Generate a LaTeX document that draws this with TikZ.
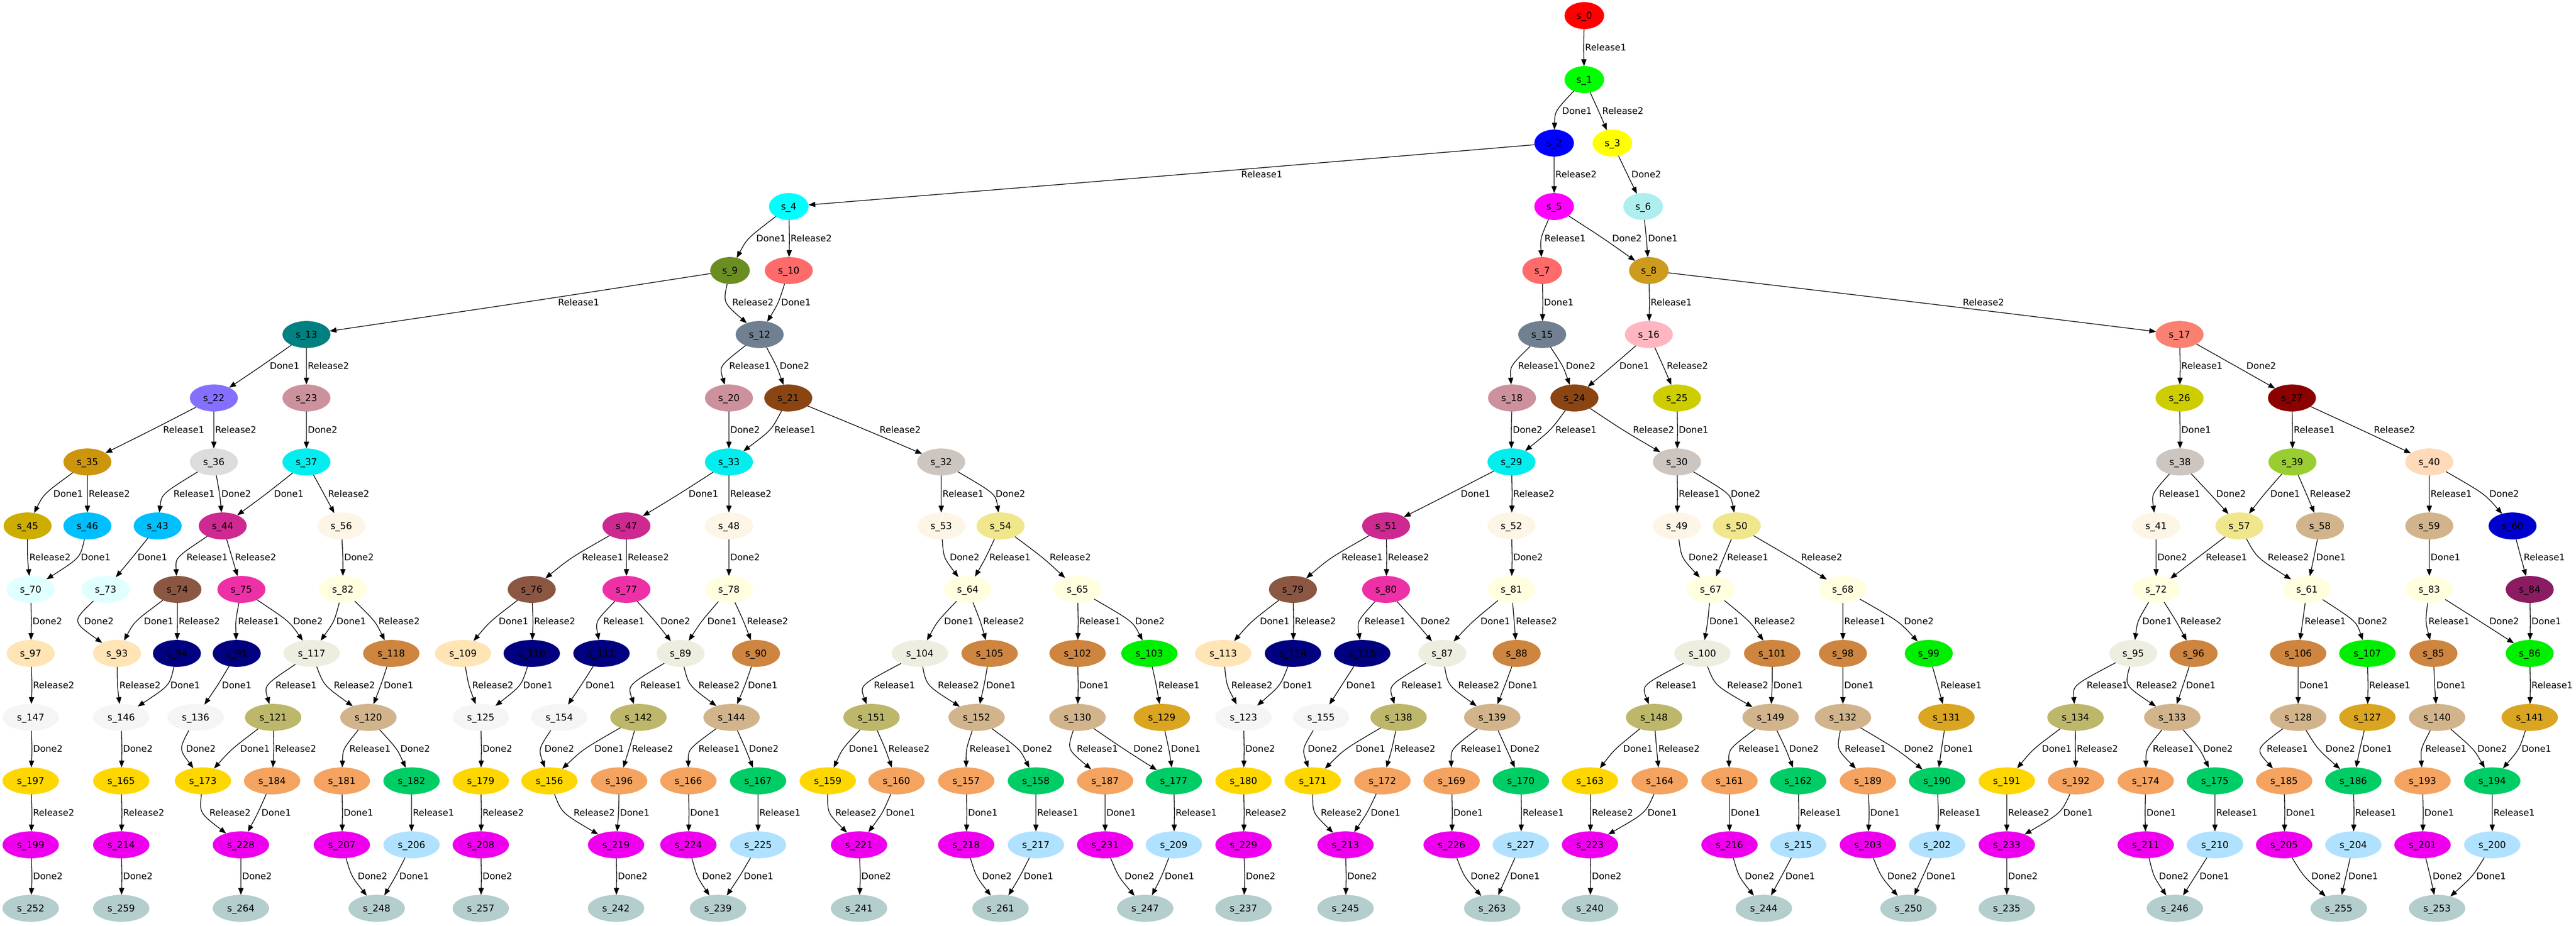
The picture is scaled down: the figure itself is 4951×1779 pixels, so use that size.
\documentclass[tikz,border=0pt]{standalone}
\usepackage{fontspec}
\setmainfont{DejaVu Sans}
\usetikzlibrary{arrows.meta,shapes.geometric,calc}
\definecolor{cRed}{HTML}{FF0000}\definecolor{cGrn}{HTML}{00FF00}\definecolor{cBlu}{HTML}{0000FF}
\definecolor{cYel}{HTML}{FFFF00}\definecolor{cCya}{HTML}{00FFFF}\definecolor{cMag}{HTML}{FF00FF}
\definecolor{cPturq}{HTML}{AFEEEE}\definecolor{cIred}{HTML}{FF6A6A}\definecolor{cGold3}{HTML}{CD9B1D}
\definecolor{cOlive}{HTML}{6B8E23}\definecolor{cSlate}{HTML}{708090}\definecolor{cTeal}{HTML}{008080}
\definecolor{cLpink}{HTML}{FFB6C1}\definecolor{cSalmon}{HTML}{FA8072}\definecolor{cPink3}{HTML}{CD919E}
\definecolor{cSbrown}{HTML}{8B4513}\definecolor{cLslate}{HTML}{8470FF}\definecolor{cYel3}{HTML}{CDCD00}
\definecolor{cDred}{HTML}{8B0000}\definecolor{cCyan2}{HTML}{00EEEE}\definecolor{cSeash3}{HTML}{CDC5BF}
\definecolor{cDgold3}{HTML}{CD950C}\definecolor{cGains}{HTML}{DCDCDC}\definecolor{cYgreen}{HTML}{9ACD32}
\definecolor{cPeach}{HTML}{FFDAB9}\definecolor{cOlace}{HTML}{FDF5E6}\definecolor{cDsky}{HTML}{00BFFF}
\definecolor{cMar3}{HTML}{CD2990}\definecolor{cGld3}{HTML}{CDAD00}\definecolor{cKhaki}{HTML}{F0E68C}
\definecolor{cTan}{HTML}{D2B48C}\definecolor{cMblue}{HTML}{0000CD}\definecolor{cLyel}{HTML}{FFFFE0}
\definecolor{cLcyan}{HTML}{E0FFFF}\definecolor{cBrn4}{HTML}{8B5742}\definecolor{cMar2}{HTML}{EE30A7}
\definecolor{cMar4}{HTML}{8B1C62}\definecolor{cPeru}{HTML}{CD853F}\definecolor{cGrn2}{HTML}{00EE00}
\definecolor{cIvory2}{HTML}{EEEEE0}\definecolor{cNavy}{HTML}{000080}\definecolor{cMocc}{HTML}{FFE4B5}
\definecolor{cDkh}{HTML}{BDB76B}\definecolor{cWsm}{HTML}{F5F5F5}\definecolor{cGoldr}{HTML}{DAA520}
\definecolor{cGold}{HTML}{FFD700}\definecolor{cSandy}{HTML}{F4A460}\definecolor{cSg3}{HTML}{00CD66}
\definecolor{cMag2}{HTML}{EE00EE}\definecolor{cLsky}{HTML}{B0E2FF}\definecolor{cLc3}{HTML}{B4CDCD}
\tikzset{
  st/.style={ellipse,draw=none,inner xsep=6pt,inner ysep=4.15pt,outer sep=0pt,
    font=\fontsize{9pt}{10pt}\selectfont,text height=0.8em,text depth=0.2em},
  edg/.style={draw=black,line width=0.65pt,-{Triangle[length=6.5pt,width=5pt]}},
  lbl/.style={anchor=west,inner sep=0.5pt,font=\fontsize{8.7pt}{10pt}\selectfont,
    text height=0.75em,text depth=0.2em}
}
\newcommand\Sn[4]{\node[st,fill=#4] (s#1) at (#2,#3) {s\_#1};}
% edge from #1 to #2 with label #3 whose left side is at x = #4 (pixels)
\newcommand\ed[4]{\draw[edg] let \p1=(#1.center),\p2=(#2.center),
  \n1={abs(\x2-\x1)/max(abs(\y2-\y1),1)},
  \n2={#4*0.5-5*\n1-0.5},
  \n3={(\y1+\y2)/2},
  \p3=({1.333333*\n2*1pt-\x1/6-\x2/6},{1.333333*\n3*1pt-\y1/6-\y2/6}),
  \p4=({#4*0.5pt},{\n3*1pt}) in
  (#1) .. controls (\p3) .. (#2) node[lbl] at (\p4) {#3};}
\begin{document}
\begin{tikzpicture}[x=0.5pt,y=-0.5pt]
\fill[white] (0,0) rectangle (4951,1779);
\useasboundingbox (0,0) rectangle (4951,1779);
% row 0-6
\Sn{0}{3045}{30}{cRed}
\Sn{1}{3045}{153}{cGrn}
\Sn{2}{2987}{275}{cBlu}\Sn{3}{3099}{275}{cYel}
\Sn{4}{1516}{397}{cCya}\Sn{5}{2987}{397}{cMag}\Sn{6}{3158}{397}{cPturq}
\Sn{9}{1403}{520}{cOlive}\Sn{10}{1516}{520}{cIred}\Sn{7}{2964}{520}{cIred}\Sn{8}{3169}{520}{cGold3}
\Sn{13}{589}{643}{cTeal}\Sn{12}{1460}{643}{cSlate}\Sn{15}{2964}{643}{cSlate}\Sn{16}{3169}{643}{cLpink}\Sn{17}{4189}{643}{cSalmon}
\Sn{22}{411}{765}{cLslate}\Sn{23}{589}{765}{cPink3}\Sn{20}{1401}{765}{cPink3}\Sn{21}{1515}{765}{cSbrown}
\Sn{18}{2906}{765}{cPink3}\Sn{24}{3026}{765}{cSbrown}\Sn{25}{3223}{765}{cYel3}\Sn{26}{4189}{765}{cYel3}\Sn{27}{4405}{765}{cDred}
% row 7
\Sn{35}{168}{888}{cDgold3}\Sn{36}{411}{888}{cGains}\Sn{37}{589}{888}{cCyan2}\Sn{33}{1401}{888}{cCyan2}
\Sn{32}{1809}{888}{cSeash3}\Sn{29}{2905}{888}{cCyan2}\Sn{30}{3223}{888}{cSeash3}\Sn{38}{4190}{888}{cSeash3}
\Sn{39}{4406}{888}{cYgreen}\Sn{40}{4669}{888}{cPeach}
% row 8
\Sn{45}{53}{1011}{cGld3}\Sn{46}{168}{1011}{cDsky}\Sn{43}{303}{1011}{cDsky}\Sn{44}{428}{1011}{cMar3}
\Sn{56}{656}{1011}{cOlace}\Sn{47}{1204}{1011}{cMar3}\Sn{48}{1401}{1011}{cOlace}\Sn{53}{1809}{1011}{cOlace}
\Sn{54}{1923}{1011}{cKhaki}\Sn{51}{2664}{1011}{cMar3}\Sn{52}{2905}{1011}{cOlace}\Sn{49}{3223}{1011}{cOlace}
\Sn{50}{3338}{1011}{cKhaki}\Sn{41}{4144}{1011}{cOlace}\Sn{57}{4304}{1011}{cKhaki}\Sn{58}{4459}{1011}{cTan}
\Sn{59}{4669}{1011}{cTan}\Sn{60}{4829}{1011}{cMblue}
% row 9
\Sn{70}{59}{1133}{cLcyan}\Sn{73}{203}{1133}{cLcyan}\Sn{74}{341}{1133}{cBrn4}\Sn{75}{464}{1133}{cMar2}
\Sn{82}{659}{1133}{cLyel}\Sn{76}{1022}{1133}{cBrn4}\Sn{77}{1204}{1133}{cMar2}\Sn{78}{1401}{1133}{cLyel}
\Sn{64}{1860}{1133}{cLyel}\Sn{65}{2071}{1133}{cLyel}\Sn{79}{2485}{1133}{cBrn4}\Sn{80}{2664}{1133}{cMar2}
\Sn{81}{2905}{1133}{cLyel}\Sn{67}{3288}{1133}{cLyel}\Sn{68}{3542}{1133}{cLyel}\Sn{72}{4144}{1133}{cLyel}
\Sn{61}{4434}{1133}{cLyel}\Sn{83}{4669}{1133}{cLyel}\Sn{84}{4862}{1133}{cMar4}
% row 10
\Sn{97}{59}{1256}{cMocc}\Sn{93}{225}{1256}{cMocc}\Sn{94}{340}{1256}{cNavy}\Sn{91}{455}{1256}{cNavy}
\Sn{117}{599}{1256}{cIvory2}\Sn{118}{752}{1256}{cPeru}\Sn{109}{890}{1256}{cMocc}\Sn{110}{1022}{1256}{cNavy}
\Sn{111}{1156}{1256}{cNavy}\Sn{89}{1308}{1256}{cIvory2}\Sn{90}{1453}{1256}{cPeru}\Sn{104}{1768}{1256}{cIvory2}
\Sn{105}{1902}{1256}{cPeru}\Sn{102}{2071}{1256}{cPeru}\Sn{103}{2209}{1256}{cGrn2}\Sn{113}{2351}{1256}{cMocc}
\Sn{114}{2485}{1256}{cNavy}\Sn{115}{2618}{1256}{cNavy}\Sn{87}{2772}{1256}{cIvory2}\Sn{88}{2915}{1256}{cPeru}
\Sn{100}{3272}{1256}{cIvory2}\Sn{101}{3406}{1256}{cPeru}\Sn{98}{3542}{1256}{cPeru}\Sn{99}{3707}{1256}{cGrn2}
\Sn{95}{4100}{1256}{cIvory2}\Sn{96}{4216}{1256}{cPeru}\Sn{106}{4417}{1256}{cPeru}\Sn{107}{4550}{1256}{cGrn2}
\Sn{85}{4677}{1256}{cPeru}\Sn{86}{4862}{1256}{cGrn2}
% row 11
\Sn{147}{59}{1379}{cWsm}\Sn{146}{233}{1379}{cWsm}\Sn{136}{376}{1379}{cWsm}\Sn{121}{525}{1379}{cDkh}
\Sn{120}{708}{1379}{cTan}\Sn{125}{924}{1379}{cWsm}\Sn{154}{1075}{1379}{cWsm}\Sn{142}{1227}{1379}{cDkh}
\Sn{144}{1406}{1379}{cTan}\Sn{151}{1675}{1379}{cDkh}\Sn{152}{1877}{1379}{cTan}\Sn{130}{2071}{1379}{cTan}
\Sn{129}{2233}{1379}{cGoldr}\Sn{123}{2390}{1379}{cWsm}\Sn{155}{2539}{1379}{cWsm}\Sn{138}{2688}{1379}{cDkh}
\Sn{139}{2868}{1379}{cTan}\Sn{148}{3179}{1379}{cDkh}\Sn{149}{3403}{1379}{cTan}\Sn{132}{3542}{1379}{cTan}
\Sn{131}{3741}{1379}{cGoldr}\Sn{134}{3989}{1379}{cDkh}\Sn{133}{4175}{1379}{cTan}\Sn{128}{4417}{1379}{cTan}
\Sn{127}{4550}{1379}{cGoldr}\Sn{140}{4684}{1379}{cTan}\Sn{141}{4862}{1379}{cGoldr}
% row 12
\Sn{197}{59}{1501}{cGold}\Sn{165}{233}{1501}{cGold}\Sn{173}{390}{1501}{cGold}\Sn{184}{523}{1501}{cSandy}
\Sn{181}{657}{1501}{cSandy}\Sn{182}{791}{1501}{cSg3}\Sn{179}{924}{1501}{cGold}\Sn{156}{1056}{1501}{cGold}
\Sn{196}{1190}{1501}{cSandy}\Sn{166}{1323}{1501}{cSandy}\Sn{167}{1457}{1501}{cSg3}\Sn{159}{1591}{1501}{cGold}
\Sn{160}{1723}{1501}{cSandy}\Sn{157}{1857}{1501}{cSandy}\Sn{158}{1991}{1501}{cSg3}\Sn{187}{2124}{1501}{cSandy}
\Sn{177}{2256}{1501}{cSg3}\Sn{180}{2390}{1501}{cGold}\Sn{171}{2523}{1501}{cGold}\Sn{172}{2657}{1501}{cSandy}
\Sn{169}{2790}{1501}{cSandy}\Sn{170}{2923}{1501}{cSg3}\Sn{163}{3056}{1501}{cGold}\Sn{164}{3190}{1501}{cSandy}
\Sn{161}{3324}{1501}{cSandy}\Sn{162}{3456}{1501}{cSg3}\Sn{189}{3590}{1501}{cSandy}\Sn{190}{3723}{1501}{cSg3}
\Sn{191}{3857}{1501}{cGold}\Sn{192}{3990}{1501}{cSandy}\Sn{174}{4124}{1501}{cSandy}\Sn{175}{4257}{1501}{cSg3}
\Sn{185}{4390}{1501}{cSandy}\Sn{186}{4523}{1501}{cSg3}\Sn{193}{4656}{1501}{cSandy}\Sn{194}{4790}{1501}{cSg3}
% row 13
\Sn{199}{59}{1624}{cMag2}\Sn{214}{233}{1624}{cMag2}\Sn{228}{463}{1624}{cMag2}\Sn{207}{657}{1624}{cMag2}
\Sn{206}{791}{1624}{cLsky}\Sn{208}{924}{1624}{cMag2}\Sn{219}{1184}{1624}{cMag2}\Sn{224}{1323}{1624}{cMag2}
\Sn{225}{1457}{1624}{cLsky}\Sn{221}{1651}{1624}{cMag2}\Sn{218}{1857}{1624}{cMag2}\Sn{217}{1991}{1624}{cLsky}
\Sn{231}{2124}{1624}{cMag2}\Sn{209}{2256}{1624}{cLsky}\Sn{229}{2390}{1624}{cMag2}\Sn{213}{2586}{1624}{cMag2}
\Sn{226}{2790}{1624}{cMag2}\Sn{227}{2923}{1624}{cLsky}\Sn{223}{3056}{1624}{cMag2}\Sn{216}{3324}{1624}{cMag2}
\Sn{215}{3456}{1624}{cLsky}\Sn{203}{3590}{1624}{cMag2}\Sn{202}{3723}{1624}{cLsky}\Sn{233}{3857}{1624}{cMag2}
\Sn{211}{4124}{1624}{cMag2}\Sn{210}{4257}{1624}{cLsky}\Sn{205}{4390}{1624}{cMag2}\Sn{204}{4523}{1624}{cLsky}
\Sn{201}{4656}{1624}{cMag2}\Sn{200}{4790}{1624}{cLsky}
% row 14
\Sn{252}{59}{1746}{cLc3}\Sn{259}{233}{1746}{cLc3}\Sn{264}{463}{1746}{cLc3}\Sn{248}{724}{1746}{cLc3}
\Sn{257}{924}{1746}{cLc3}\Sn{242}{1184}{1746}{cLc3}\Sn{239}{1380}{1746}{cLc3}\Sn{241}{1651}{1746}{cLc3}
\Sn{261}{1923}{1746}{cLc3}\Sn{247}{2201}{1746}{cLc3}\Sn{237}{2390}{1746}{cLc3}\Sn{245}{2586}{1746}{cLc3}
\Sn{263}{2868}{1746}{cLc3}\Sn{240}{3056}{1746}{cLc3}\Sn{244}{3390}{1746}{cLc3}\Sn{250}{3668}{1746}{cLc3}
\Sn{235}{3857}{1746}{cLc3}\Sn{246}{4180}{1746}{cLc3}\Sn{255}{4495}{1746}{cLc3}\Sn{253}{4684}{1746}{cLc3}
% edges
\ed{s0}{s1}{Release1}{3045}
\ed{s1}{s2}{Done1}{3001}\ed{s1}{s3}{Release2}{3078}
\ed{s2}{s4}{Release1}{2384}\ed{s2}{s5}{Release2}{2988}\ed{s3}{s6}{Done2}{3134}
\ed{s4}{s9}{Done1}{1452}\ed{s4}{s10}{Release2}{1518}\ed{s5}{s7}{Release1}{2967}\ed{s5}{s8}{Done2}{3097}\ed{s6}{s8}{Done1}{3166}
\ed{s9}{s13}{Release1}{1071}\ed{s9}{s12}{Release2}{1406}\ed{s10}{s12}{Done1}{1500}\ed{s7}{s15}{Done1}{2966}
\ed{s8}{s16}{Release1}{3171}\ed{s8}{s17}{Release2}{3771}
\ed{s13}{s22}{Done1}{517}\ed{s13}{s23}{Release2}{590}\ed{s12}{s20}{Release1}{1400}\ed{s12}{s21}{Done2}{1497}
\ed{s15}{s18}{Release1}{2916}\ed{s15}{s24}{Done2}{3008}\ed{s16}{s24}{Done1}{3111}\ed{s16}{s25}{Release2}{3202}
\ed{s17}{s26}{Release1}{4191}\ed{s17}{s27}{Done2}{4316}
\ed{s22}{s35}{Release1}{312}\ed{s22}{s36}{Release2}{412}\ed{s23}{s37}{Done2}{590}\ed{s20}{s33}{Done2}{1402}
\ed{s21}{s33}{Release1}{1487}\ed{s21}{s32}{Release2}{1689}\ed{s18}{s29}{Done2}{2906}\ed{s24}{s29}{Release1}{2988}
\ed{s24}{s30}{Release2}{3137}\ed{s25}{s30}{Done1}{3225}\ed{s26}{s38}{Done1}{4191}\ed{s27}{s39}{Release1}{4407}\ed{s27}{s40}{Release2}{4561}
\ed{s35}{s45}{Done1}{101}\ed{s35}{s46}{Release2}{169}\ed{s36}{s43}{Release1}{332}\ed{s36}{s44}{Done2}{424}
\ed{s37}{s44}{Done1}{525}\ed{s37}{s56}{Release2}{629}\ed{s33}{s47}{Done1}{1322}\ed{s33}{s48}{Release2}{1402}
\ed{s32}{s53}{Release1}{1810}\ed{s32}{s54}{Done2}{1912}\ed{s29}{s51}{Done1}{2806}\ed{s29}{s52}{Release2}{2907}
\ed{s30}{s49}{Release1}{3225}\ed{s30}{s50}{Done2}{3325}\ed{s38}{s41}{Release1}{4148}\ed{s38}{s57}{Done2}{4258}
\ed{s39}{s57}{Done1}{4362}\ed{s39}{s58}{Release2}{4438}\ed{s40}{s59}{Release1}{4670}\ed{s40}{s60}{Done2}{4783}
\ed{s45}{s70}{Release2}{55}\ed{s46}{s70}{Done1}{154}\ed{s43}{s73}{Done1}{263}\ed{s44}{s74}{Release1}{357}
\ed{s44}{s75}{Release2}{450}\ed{s56}{s82}{Done2}{660}\ed{s47}{s76}{Release1}{1117}\ed{s47}{s77}{Release2}{1205}
\ed{s48}{s78}{Done2}{1402}\ed{s53}{s64}{Done2}{1824}\ed{s54}{s64}{Release1}{1900}\ed{s54}{s65}{Release2}{2016}
\ed{s51}{s79}{Release1}{2577}\ed{s51}{s80}{Release2}{2666}\ed{s52}{s81}{Done2}{2907}\ed{s49}{s67}{Done2}{3244}
\ed{s50}{s67}{Release1}{3318}\ed{s50}{s68}{Release2}{3460}\ed{s41}{s72}{Done2}{4145}\ed{s57}{s72}{Release1}{4238}
\ed{s57}{s61}{Release2}{4357}\ed{s58}{s61}{Done1}{4450}\ed{s59}{s83}{Done1}{4670}\ed{s60}{s84}{Release1}{4849}
\ed{s70}{s97}{Done2}{61}\ed{s73}{s93}{Done2}{160}\ed{s74}{s93}{Done1}{275}\ed{s74}{s94}{Release2}{342}
\ed{s75}{s91}{Release1}{456}\ed{s75}{s117}{Done2}{562}\ed{s82}{s117}{Done1}{645}\ed{s82}{s118}{Release2}{726}
\ed{s76}{s109}{Done1}{957}\ed{s76}{s110}{Release2}{1025}\ed{s77}{s111}{Release1}{1158}\ed{s77}{s89}{Done2}{1268}
\ed{s78}{s89}{Done1}{1358}\ed{s78}{s90}{Release2}{1434}\ed{s64}{s104}{Done1}{1813}\ed{s64}{s105}{Release2}{1888}
\ed{s65}{s102}{Release1}{2073}\ed{s65}{s103}{Done2}{2180}\ed{s79}{s113}{Done1}{2420}\ed{s79}{s114}{Release2}{2487}
\ed{s80}{s115}{Release1}{2621}\ed{s80}{s87}{Done2}{2729}\ed{s81}{s87}{Done1}{2844}\ed{s81}{s88}{Release2}{2912}
\ed{s67}{s100}{Done1}{3284}\ed{s67}{s101}{Release2}{3370}\ed{s68}{s98}{Release1}{3543}\ed{s68}{s99}{Done2}{3658}
\ed{s72}{s95}{Done1}{4116}\ed{s72}{s96}{Release2}{4189}\ed{s61}{s106}{Release1}{4428}\ed{s61}{s107}{Done2}{4530}
\ed{s83}{s85}{Release1}{4666}\ed{s83}{s86}{Done2}{4783}\ed{s84}{s86}{Done1}{4864}
\ed{s97}{s147}{Release2}{62}\ed{s93}{s146}{Release2}{228}\ed{s94}{s146}{Done1}{326}\ed{s91}{s136}{Done1}{425}
\ed{s117}{s121}{Release1}{528}\ed{s117}{s120}{Release2}{640}\ed{s118}{s120}{Done1}{736}\ed{s109}{s125}{Release2}{906}
\ed{s110}{s125}{Done1}{1004}\ed{s111}{s154}{Done1}{1124}\ed{s89}{s142}{Release1}{1229}\ed{s89}{s144}{Release2}{1341}
\ed{s90}{s144}{Done1}{1436}\ed{s104}{s151}{Release1}{1678}\ed{s104}{s152}{Release2}{1801}\ed{s105}{s152}{Done1}{1894}
\ed{s102}{s130}{Done1}{2073}\ed{s103}{s129}{Release1}{2225}\ed{s113}{s123}{Release2}{2365}\ed{s114}{s123}{Done1}{2464}
\ed{s115}{s155}{Done1}{2586}\ed{s87}{s138}{Release1}{2692}\ed{s87}{s139}{Release2}{2801}\ed{s88}{s139}{Done1}{2897}
\ed{s100}{s148}{Release1}{3181}\ed{s100}{s149}{Release2}{3318}\ed{s101}{s149}{Done1}{3407}\ed{s98}{s132}{Done1}{3543}
\ed{s99}{s131}{Release1}{3728}\ed{s95}{s134}{Release1}{4009}\ed{s95}{s133}{Release2}{4104}\ed{s96}{s133}{Done1}{4200}
\ed{s106}{s128}{Done1}{4418}\ed{s107}{s127}{Release1}{4552}\ed{s85}{s140}{Done1}{4681}\ed{s86}{s141}{Release1}{4864}
\ed{s147}{s197}{Done2}{62}\ed{s146}{s165}{Done2}{235}\ed{s136}{s173}{Done2}{356}\ed{s121}{s173}{Done1}{460}
\ed{s121}{s184}{Release2}{527}\ed{s120}{s181}{Release1}{670}\ed{s120}{s182}{Done2}{768}\ed{s125}{s179}{Done2}{926}
\ed{s154}{s156}{Done2}{1045}\ed{s142}{s156}{Done1}{1141}\ed{s142}{s196}{Release2}{1213}\ed{s144}{s166}{Release1}{1341}
\ed{s144}{s167}{Done2}{1438}\ed{s151}{s159}{Done1}{1630}\ed{s151}{s160}{Release2}{1706}\ed{s152}{s157}{Release1}{1862}
\ed{s152}{s158}{Done2}{1964}\ed{s130}{s187}{Release1}{2068}\ed{s130}{s177}{Done2}{2177}\ed{s129}{s177}{Done1}{2249}
\ed{s123}{s180}{Done2}{2392}\ed{s155}{s171}{Done2}{2512}\ed{s138}{s171}{Done1}{2604}\ed{s138}{s172}{Release2}{2678}
\ed{s139}{s169}{Release1}{2806}\ed{s139}{s170}{Done2}{2901}\ed{s148}{s163}{Done1}{3118}\ed{s148}{s164}{Release2}{3186}
\ed{s149}{s161}{Release1}{3340}\ed{s149}{s162}{Done2}{3437}\ed{s132}{s189}{Release1}{3544}\ed{s132}{s190}{Done2}{3658}
\ed{s131}{s190}{Done1}{3734}\ed{s134}{s191}{Done1}{3923}\ed{s134}{s192}{Release2}{3990}\ed{s133}{s174}{Release1}{4136}
\ed{s133}{s175}{Done2}{4233}\ed{s128}{s185}{Release1}{4355}\ed{s128}{s186}{Done2}{4468}\ed{s127}{s186}{Done1}{4539}
\ed{s140}{s193}{Release1}{4660}\ed{s140}{s194}{Done2}{4760}\ed{s141}{s194}{Done1}{4845}
\ed{s197}{s199}{Release2}{62}\ed{s165}{s214}{Release2}{235}\ed{s173}{s228}{Release2}{401}\ed{s184}{s228}{Done1}{501}
\ed{s181}{s207}{Done1}{659}\ed{s182}{s206}{Release1}{792}\ed{s179}{s208}{Release2}{926}\ed{s156}{s219}{Release2}{1101}
\ed{s196}{s219}{Done1}{1190}\ed{s166}{s224}{Done1}{1325}\ed{s167}{s225}{Release1}{1458}\ed{s159}{s221}{Release2}{1604}
\ed{s160}{s221}{Done1}{1701}\ed{s157}{s218}{Done1}{1859}\ed{s158}{s217}{Release1}{1992}\ed{s187}{s231}{Done1}{2125}
\ed{s177}{s209}{Release1}{2258}\ed{s180}{s229}{Release2}{2392}\ed{s171}{s213}{Release2}{2537}\ed{s172}{s213}{Done1}{2633}
\ed{s169}{s226}{Done1}{2792}\ed{s170}{s227}{Release1}{2925}\ed{s163}{s223}{Release2}{3058}\ed{s164}{s223}{Done1}{3165}
\ed{s161}{s216}{Done1}{3325}\ed{s162}{s215}{Release1}{3458}\ed{s189}{s203}{Done1}{3593}\ed{s190}{s202}{Release1}{3726}
\ed{s191}{s233}{Release2}{3858}\ed{s192}{s233}{Done1}{3964}\ed{s174}{s211}{Done1}{4124}\ed{s175}{s210}{Release1}{4258}
\ed{s185}{s205}{Done1}{4392}\ed{s186}{s204}{Release1}{4525}\ed{s193}{s201}{Done1}{4658}\ed{s194}{s200}{Release1}{4791}
\ed{s199}{s252}{Done2}{62}\ed{s214}{s259}{Done2}{235}\ed{s228}{s264}{Done2}{464}\ed{s207}{s248}{Done2}{686}
\ed{s206}{s248}{Done1}{766}\ed{s208}{s257}{Done2}{926}\ed{s219}{s242}{Done2}{1186}\ed{s224}{s239}{Done2}{1348}
\ed{s225}{s239}{Done1}{1428}\ed{s221}{s241}{Done2}{1654}\ed{s218}{s261}{Done2}{1886}\ed{s217}{s261}{Done1}{1966}
\ed{s231}{s247}{Done2}{2160}\ed{s209}{s247}{Done1}{2237}\ed{s229}{s237}{Done2}{2393}\ed{s213}{s245}{Done2}{2588}
\ed{s226}{s263}{Done2}{2825}\ed{s227}{s263}{Done1}{2901}\ed{s223}{s240}{Done2}{3058}\ed{s216}{s244}{Done2}{3352}
\ed{s215}{s244}{Done1}{3430}\ed{s203}{s250}{Done2}{3626}\ed{s202}{s250}{Done1}{3701}\ed{s233}{s235}{Done2}{3858}
\ed{s211}{s246}{Done2}{4148}\ed{s210}{s246}{Done1}{4226}\ed{s205}{s255}{Done2}{4441}\ed{s204}{s255}{Done1}{4512}
\ed{s201}{s253}{Done2}{4674}\ed{s200}{s253}{Done1}{4758}
\end{tikzpicture}
\end{document}
